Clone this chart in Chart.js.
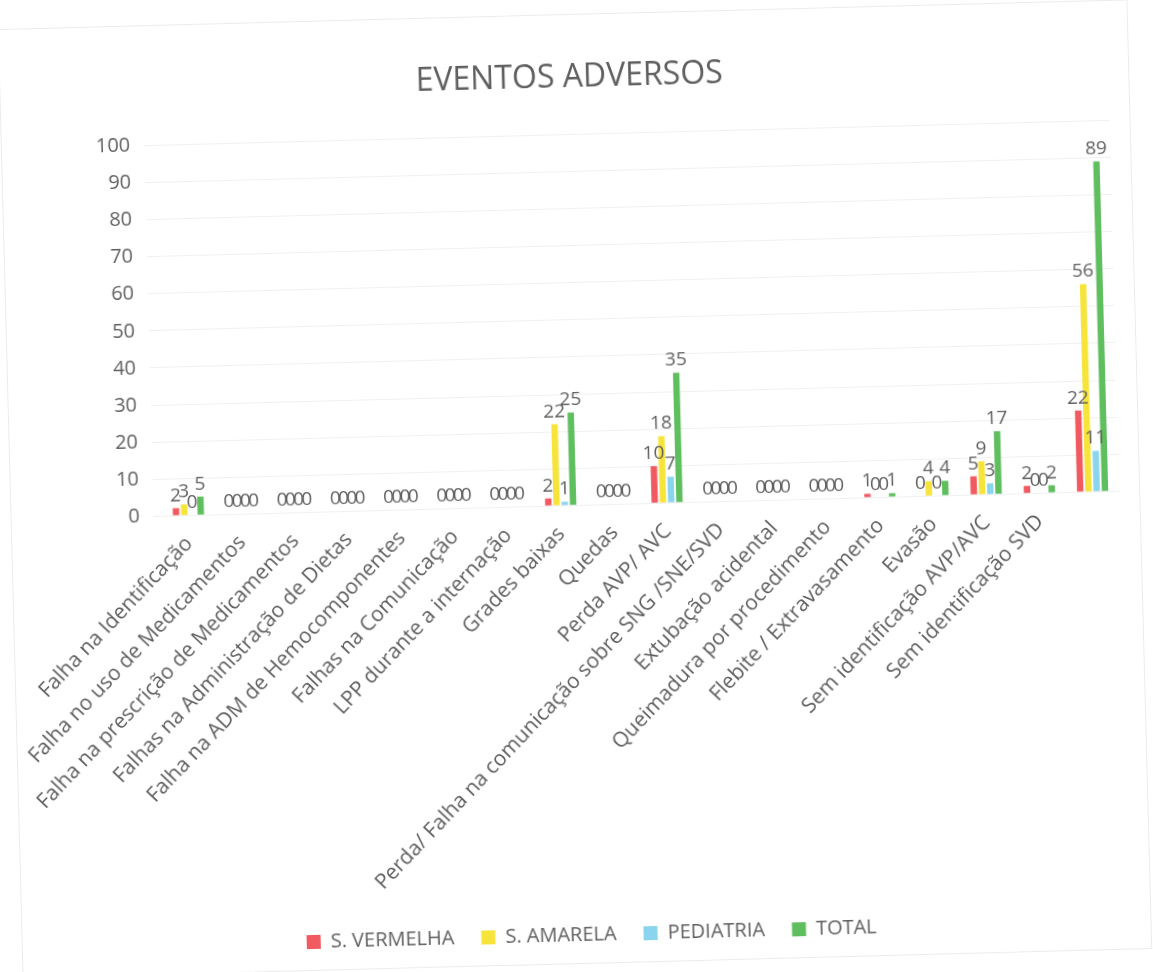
<!DOCTYPE html>
<html>
<head>
<meta charset="utf-8">
<script src="https://cdn.jsdelivr.net/npm/chart.js@4.4.0/dist/chart.umd.min.js"></script>
<style>
  html, body { margin: 0; padding: 0; background: #fff; overflow: hidden; }
  #wrap { position: absolute; left: 10px; top: 14px; width: 1130px; height: 950px;
          border: 1px solid #ececec; box-sizing: border-box; transform: rotate(-1.5deg); }
  canvas { display: block; }
</style>
</head>
<body>
<div id="wrap"><canvas id="chart"></canvas></div>
<script>
const categories = [
  'Falha na Identificação', 'Falha no uso de Medicamentos', 'Falha na prescrição de Medicamentos',
  'Falhas na Administração de Dietas', 'Falha na ADM de Hemocomponentes', 'Falhas na Comunicação',
  'LPP durante a internação', 'Grades baixas', 'Quedas', 'Perda AVP/ AVC',
  'Perda/ Falha na comunicação sobre SNG /SNE/SVD', 'Extubação acidental',
  'Queimadura por procedimento', 'Flebite / Extravasamento', 'Evasão',
  'Sem identificação AVP/AVC', 'Sem identificação SVD', '',
];
const vermelha  = [2, 0, 0, 0, 0, 0, 0, 2, 0, 10, 0, 0, 0, 1, 0, 5, 2, 22];
const amarela   = [3, 0, 0, 0, 0, 0, 0, 22, 0, 18, 0, 0, 0, 0, 4, 9, 0, 56];
const pediatria = [0, 0, 0, 0, 0, 0, 0, 1, 0, 7, 0, 0, 0, 0, 0, 3, 0, 11];
const total     = [5, 0, 0, 0, 0, 0, 0, 25, 0, 35, 0, 0, 0, 1, 4, 17, 2, 89];
const yTicks = [0, 10, 20, 30, 40, 50, 60, 70, 80, 90, 100];

const TEXT = '#5f5f5f';
const FONT = "'Open Sans', 'Noto Sans', sans-serif";

// valores em cima das barras
const valueLabels = {
  id: 'valueLabels',
  afterDatasetsDraw(chart) {
    const ctx = chart.ctx;
    ctx.save();
    ctx.fillStyle = TEXT;
    ctx.font = `19px ${FONT}`;
    ctx.textAlign = 'center';
    ctx.textBaseline = 'bottom';
    chart.data.datasets.forEach((ds, i) => {
      const meta = chart.getDatasetMeta(i);
      if (meta.hidden) return;
      meta.data.forEach((bar, j) => {
        ctx.fillText(String(ds.data[j]), bar.x, bar.y - 3);
      });
    });
    ctx.restore();
  },
};

function series(label, data, color) {
  return { label, data, backgroundColor: color, borderWidth: 0,
           categoryPercentage: 0.62, barPercentage: 0.78 };
}

new Chart(document.getElementById('chart'), {
  type: 'bar',
  data: {
    labels: categories,
    datasets: [
      series('S. VERMELHA', vermelha, '#f15a60'),
      series('S. AMARELA', amarela, '#f7e43a'),
      series('PEDIATRIA', pediatria, '#8ad5ed'),
      series('TOTAL', total, '#5fbf5f'),
    ],
  },
  options: {
    responsive: true,
    maintainAspectRatio: false,
    animation: false,
    layout: { padding: { left: 30, right: 20, top: 22, bottom: 8 } },
    plugins: {
      title: {
        display: true, text: 'EVENTOS ADVERSOS', color: TEXT,
        font: { family: FONT, size: 32, weight: 'normal' },
        padding: { top: 22, bottom: 37 },
      },
      legend: {
        position: 'bottom',
        labels: { color: TEXT, font: { family: FONT, size: 20 }, boxWidth: 14, boxHeight: 14, padding: 27 },
      },
      tooltip: { enabled: false },
    },
    scales: {
      x: {
        grid: { display: false },
        border: { display: false },
        ticks: { color: TEXT, font: { family: FONT, size: 21 }, minRotation: 45, maxRotation: 45,
                 autoSkip: false, padding: 8 },
      },
      y: {
        min: 0, max: 100,
        afterBuildTicks: (axis) => { axis.ticks = yTicks.map(v => ({ value: v })); },
        afterFit: (axis) => { axis.width += 50; },
        grid: { color: '#f0f0f0' },
        border: { display: false },
        ticks: { color: TEXT, font: { family: FONT, size: 20 }, padding: 14 },
      },
    },
  },
  plugins: [valueLabels],
});
</script>
</body>
</html>
